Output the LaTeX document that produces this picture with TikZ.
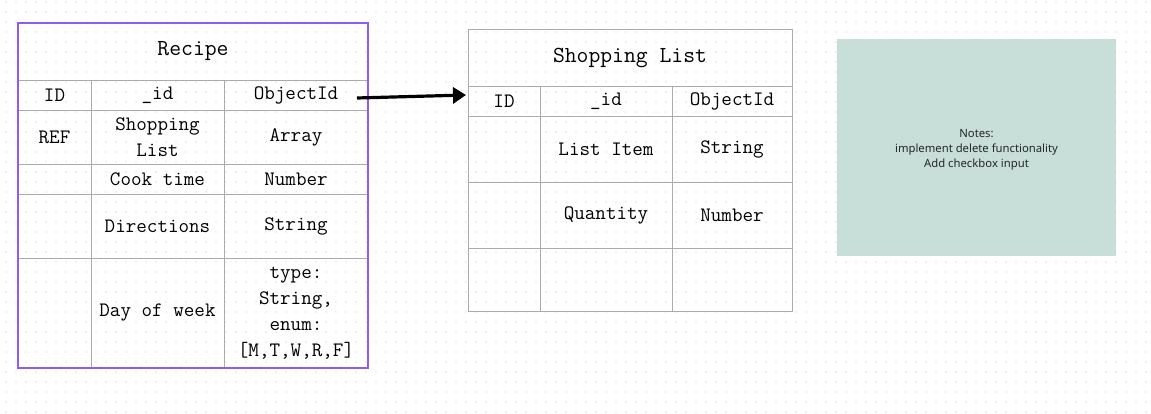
\documentclass[tikz,border=0pt]{standalone}
\usepackage{fontspec}
\newfontfamily\notefont{Noto Sans}
\usepackage{tikz}
\usetikzlibrary{arrows.meta, calc}
\usepackage{xcolor}

\definecolor{framepurple}{HTML}{8B5CF6}
\definecolor{cellgray}{HTML}{ABABAB}
\definecolor{notegreen}{HTML}{C8DED8}
\definecolor{notetext}{HTML}{262626}
\definecolor{dotgray}{HTML}{E0E0E0}

\begin{document}
\begin{tikzpicture}[x=1pt, y=-1pt,
    cell/.style={draw=cellgray, line width=0.9pt, inner sep=0pt, outer sep=0pt,
      align=center, font=\ttfamily\fontsize{20.5}{26}\selectfont},
    title cell/.style={cell, font=\ttfamily\fontsize{23}{26}\selectfont},
    frame/.style={draw=framepurple, line width=2pt, inner sep=0pt, outer sep=0pt},
    note/.style={fill=notegreen, inner sep=0pt},
    note text/.style={align=center, text=notetext, inner sep=0pt,
      font=\notefont\fontsize{11.3}{15}\selectfont},
    link/.style={line width=3.2pt, -{Triangle[length=13pt, width=16pt]}}]
      \useasboundingbox (0,0) rectangle (1151,414);

      % Dotted background
      \foreach \i in {0,...,114}
        \foreach \j in {0,...,41}
          \fill [dotgray] (6+10*\i,2+10*\j) circle (0.8);

      % Recipe table
      \node [title cell, minimum width=350, minimum height=57] (recipe-title) at (193,51.5) {Recipe};
      \foreach \x/\w/\txt [count=\c] in {54.5/73/ID, 157.5/133/\_id, 296/144/ObjectId}
        \node [cell, minimum width=\w, minimum height=30] (recipe-1-\c) at (\x,95) {\txt};
      \foreach \x/\w/\txt [count=\c] in {54.5/73/REF, 157.5/133/{Shopping\\List}, 296/144/Array}
        \node [cell, minimum width=\w, minimum height=54] (recipe-2-\c) at (\x,137) {\txt};
      \foreach \x/\w/\txt [count=\c] in {54.5/73/{}, 157.5/133/Cook time, 296/144/Number}
        \node [cell, minimum width=\w, minimum height=30] (recipe-3-\c) at (\x,179) {\txt};
      \foreach \x/\w/\txt [count=\c] in {54.5/73/{}, 157.5/133/Directions, 296/144/String}
        \node [cell, minimum width=\w, minimum height=64] (recipe-4-\c) at (\x,226) {\txt};
      \foreach \x/\w/\txt [count=\c] in {54.5/73/{}, 157.5/133/Day of week, 296/144/{type:\\String,\\enum:\\{[M,T,W,R,F]}}}
        \node [cell, minimum width=\w, minimum height=110] (recipe-5-\c) at (\x,313) {\txt};
      \node [frame, minimum width=350, minimum height=345] (recipe) at (193,195.5) {};

      % Shopping list table
      \node [title cell, minimum width=324, minimum height=57] (shop-title) at (630,57.5) {Shopping List};
      \foreach \x/\w/\txt [count=\c] in {504/72/ID, 606/132/\_id, 732/120/ObjectId}
        \node [cell, minimum width=\w, minimum height=30] (shop-1-\c) at (\x,101) {\txt};
      \foreach \x/\w/\txt [count=\c] in {504/72/{}, 606/132/List Item, 732/120/String}
        \node [cell, minimum width=\w, minimum height=66] (shop-2-\c) at (\x,149) {\txt};
      \foreach \x/\w/\txt [count=\c] in {504/72/{}, 606/132/Quantity, 732/120/Number}
        \node [cell, minimum width=\w, minimum height=66] (shop-3-\c) at (\x,215) {\txt};
      \foreach \x/\w [count=\c] in {504/72, 606/132, 732/120}
        \node [cell, minimum width=\w, minimum height=63] (shop-4-\c) at (\x,279.5) {};

      % Notes
      \node [note, minimum width=279, minimum height=217] (notes) at (976.5,147.5) {};
      \node [note text] (notes-text) at ([yshift=-2pt]notes.center)
        {Notes:\\implement delete functionality\\Add checkbox input};

      % Reference arrow
      \coordinate (link-start) at ([xshift=-11pt, yshift=-3pt]recipe-1-3.east);
      \coordinate (link-end) at ([xshift=-2pt, yshift=6pt]shop-1-1.west);
      \draw [link] (link-start) -- (link-end);
    \end{tikzpicture}
\end{document}
